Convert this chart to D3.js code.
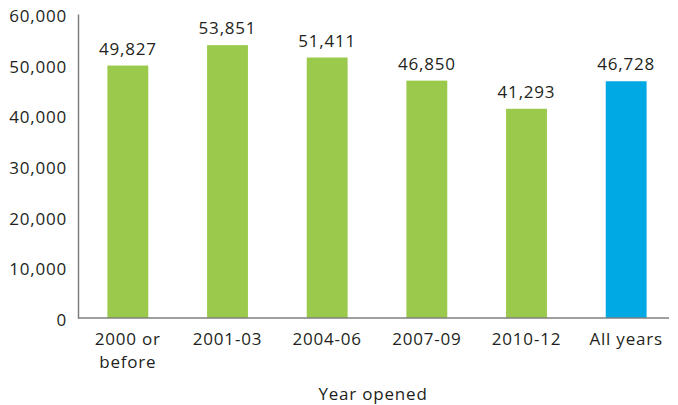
<!DOCTYPE html>
<html>
<head>
<meta charset="utf-8">
<script src="https://cdn.jsdelivr.net/npm/d3@7"></script>
<style>
  html, body { margin: 0; padding: 0; background: #fff; }
  svg text { font-family: "Open Sans", "Noto Sans", sans-serif; fill: #231f20; letter-spacing: 0.8px; }
</style>
</head>
<body>
<svg id="chart" width="678" height="405"></svg>
<script>
// Average value by year opened
const categories = [["2000 or", "before"], ["2001-03"], ["2004-06"], ["2007-09"], ["2010-12"], ["All years"]];
const values = [49827, 53851, 51411, 46850, 41293, 46728];
const highlight = [false, false, false, false, false, true];
const yTicks = [0, 10000, 20000, 30000, 40000, 50000, 60000];
const xTitle = "Year opened";

const svg = d3.select("#chart");
const margin = { left: 78, right: 2, top: 14, bottom: 87 };
const width = 678, height = 405;
const y0 = height - margin.bottom;
const fontSize = "17px";

const keys = categories.map((c, i) => i);
const x = d3.scaleBand()
  .domain(keys)
  .range([margin.left, width - margin.right])
  .paddingInner(0.59)
  .paddingOuter(0.295);

const y = d3.scaleLinear().domain([0, 60000]).range([y0, margin.top]);
const fmt = d3.format(",");

// y axis
const yAxis = svg.append("g")
  .attr("transform", `translate(${margin.left},0)`)
  .call(d3.axisLeft(y).tickValues(yTicks).tickFormat(fmt).tickSize(0).tickPadding(11));
yAxis.select(".domain").attr("stroke", "#7f7f7f").attr("stroke-width", 1.5);
yAxis.selectAll("text")
  .style("font-size", fontSize)
  .attr("fill", "#231f20")
  .attr("dy", "0.45em");

// bars
svg.append("g").selectAll("rect")
  .data(values)
  .join("rect")
  .attr("x", (d, i) => x(i))
  .attr("width", x.bandwidth())
  .attr("y", d => y(d))
  .attr("height", d => y0 - y(d))
  .attr("fill", (d, i) => highlight[i] ? "#00a9e3" : "#9bc94b");

// value labels
svg.append("g").selectAll("text")
  .data(values)
  .join("text")
  .attr("x", (d, i) => x(i) + x.bandwidth() / 2)
  .attr("y", d => y(d) - 11)
  .attr("text-anchor", "middle")
  .style("font-size", fontSize)
  .text(d => fmt(d));

// baseline
svg.append("line")
  .attr("x1", margin.left).attr("x2", 669)
  .attr("y1", y0).attr("y2", y0)
  .attr("stroke", "#7f7f7f").attr("stroke-width", 1.5);

// category labels
const xl = svg.append("g").selectAll("text")
  .data(categories)
  .join("text")
  .attr("x", (d, i) => x(i) + x.bandwidth() / 2)
  .attr("y", y0 + 27)
  .attr("text-anchor", "middle")
  .style("font-size", fontSize);
xl.selectAll("tspan")
  .data(d => d)
  .join("tspan")
  .attr("x", function () { return this.parentNode.getAttribute("x"); })
  .attr("dy", (d, j) => j === 0 ? 0 : 23)
  .text(d => d);

// axis title
svg.append("text")
  .attr("x", 373)
  .attr("y", 400)
  .attr("text-anchor", "middle")
  .style("font-size", fontSize)
  .text(xTitle);
</script>
</body>
</html>
